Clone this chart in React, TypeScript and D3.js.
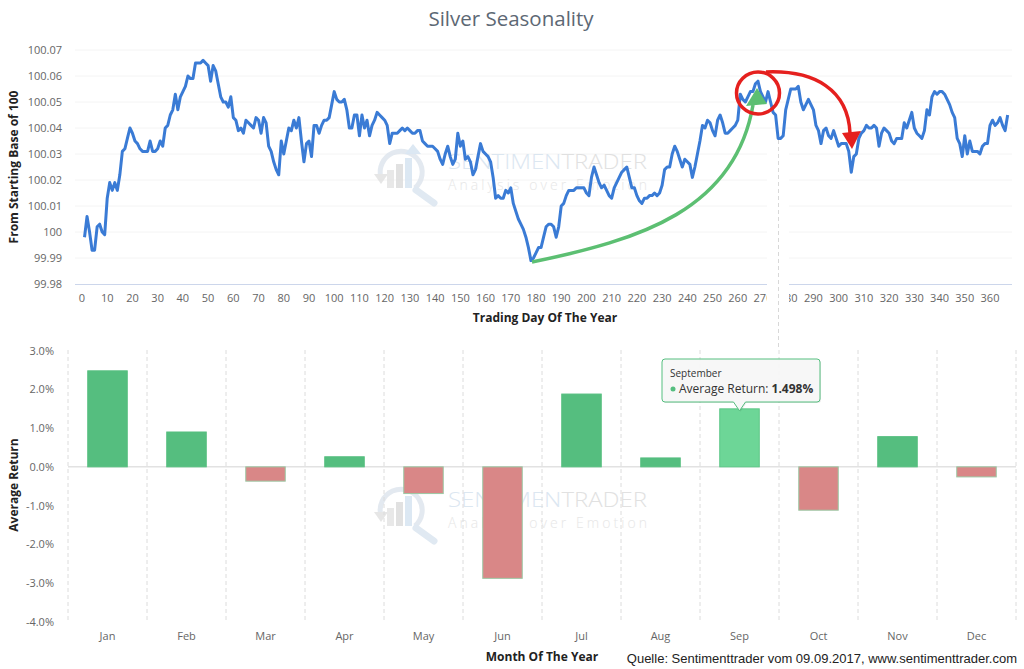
import React from "react";
import * as d3 from "d3";

// seasonal path, one value per trading day starting at day 1
const dailyValues = [
  99.998, 100.006, 100.0, 99.993, 99.993, 100.002, 100.003, 100.0, 99.999, 100.013,
  100.019, 100.016, 100.019, 100.016, 100.022, 100.031, 100.032, 100.036, 100.04, 100.038,
  100.035, 100.034, 100.032, 100.031, 100.031, 100.031, 100.035, 100.031, 100.031, 100.032,
  100.035, 100.033, 100.04, 100.041, 100.045, 100.047, 100.053, 100.047, 100.052, 100.054,
  100.056, 100.06, 100.059, 100.059, 100.065, 100.065, 100.065, 100.066, 100.065, 100.064,
  100.058, 100.064, 100.062, 100.057, 100.052, 100.05, 100.05, 100.048, 100.052, 100.044,
  100.043, 100.039, 100.04, 100.038, 100.043, 100.042, 100.041, 100.04, 100.044, 100.043,
  100.038, 100.044, 100.042, 100.033, 100.031, 100.027, 100.024, 100.022, 100.035, 100.03,
  100.035, 100.04, 100.039, 100.043, 100.04, 100.044, 100.035, 100.027, 100.034, 100.035,
  100.029, 100.041, 100.041, 100.038, 100.041, 100.043, 100.043, 100.044, 100.049, 100.054,
  100.051, 100.05, 100.05, 100.051, 100.047, 100.04, 100.04, 100.045, 100.045, 100.037,
  100.045, 100.04, 100.043, 100.037, 100.041, 100.043, 100.046, 100.045, 100.044, 100.043,
  100.041, 100.034, 100.038, 100.038, 100.038, 100.039, 100.04, 100.039, 100.04, 100.039,
  100.038, 100.038, 100.039, 100.039, 100.035, 100.034, 100.033, 100.033, 100.033, 100.032,
  100.031, 100.028, 100.026, 100.03, 100.033, 100.029, 100.026, 100.028, 100.038, 100.033,
  100.035, 100.028, 100.029, 100.027, 100.022, 100.024, 100.029, 100.034, 100.031, 100.03,
  100.029, 100.027, 100.021, 100.013, 100.014, 100.013, 100.013, 100.016, 100.015, 100.017,
  100.011, 100.008, 100.005, 100.003, 100.001, 99.998, 99.994, 99.989, 99.99, 99.992,
  99.994, 99.994, 99.998, 100.002, 100.003, 100.003, 100.002, 99.998, 100.002, 100.01,
  100.011, 100.014, 100.016, 100.016, 100.016, 100.017, 100.017, 100.017, 100.017, 100.015,
  100.014, 100.021, 100.025, 100.022, 100.019, 100.017, 100.018, 100.016, 100.014, 100.013,
  100.017, 100.019, 100.021, 100.023, 100.024, 100.025, 100.021, 100.017, 100.017, 100.014,
  100.012, 100.011, 100.013, 100.013, 100.014, 100.014, 100.015, 100.014, 100.015, 100.018,
  100.024, 100.025, 100.025, 100.03, 100.033, 100.031, 100.028, 100.025, 100.028, 100.027,
  100.026, 100.021, 100.025, 100.03, 100.035, 100.041, 100.04, 100.043, 100.042, 100.039,
  100.037, 100.043, 100.045, 100.042, 100.038, 100.038, 100.039, 100.04, 100.041, 100.043,
  100.053, 100.051, 100.05, 100.052, 100.054, 100.054, 100.057, 100.058, 100.054, 100.052,
  100.05, 100.054, 100.05, 100.046, 100.045, 100.036, 100.036, 100.037, 100.047, 100.051,
  100.055, 100.055, 100.055, 100.056, 100.05, 100.047, 100.049, 100.051, 100.049, 100.047,
  100.041, 100.039, 100.034, 100.039, 100.04, 100.037, 100.036, 100.039, 100.036, 100.033,
  100.034, 100.034, 100.034, 100.031, 100.023, 100.029, 100.03, 100.036, 100.038, 100.039,
  100.041, 100.04, 100.04, 100.041, 100.04, 100.033, 100.038, 100.04, 100.039, 100.038,
  100.035, 100.034, 100.036, 100.036, 100.036, 100.042, 100.04, 100.043, 100.046, 100.04,
  100.038, 100.037, 100.036, 100.039, 100.047, 100.045, 100.052, 100.054, 100.053, 100.054,
  100.054, 100.053, 100.051, 100.049, 100.046, 100.044, 100.036, 100.034, 100.029, 100.037,
  100.03, 100.035, 100.031, 100.031, 100.031, 100.03, 100.033, 100.034, 100.034, 100.041,
  100.043, 100.041, 100.042, 100.044, 100.041, 100.039, 100.045,
];

const dayTicks = d3.range(0, 361, 10);
const levelTicks = [99.98, 99.99, 100, 100.01, 100.02, 100.03, 100.04, 100.05, 100.06, 100.07];
const levelLabels = ["99.98", "99.99", "100", "100.01", "100.02", "100.03", "100.04", "100.05", "100.06", "100.07"];

const months = ["Jan", "Feb", "Mar", "Apr", "May", "Jun", "Jul", "Aug", "Sep", "Oct", "Nov", "Dec"];
const monthReturns = [2.48, 0.9, -0.37, 0.26, -0.69, -2.88, 1.88, 0.23, 1.498, -1.12, 0.78, -0.26];
const returnTicks = [3, 2, 1, 0, -1, -2, -3, -4];

const font = "'Open Sans', 'DejaVu Sans', sans-serif";
const green = "#55be7f";
const red = "#d98787";

const Watermark: React.FC<{ dy: number }> = ({ dy }) => (
  <g transform={`translate(0,${dy})`} opacity={0.85}>
    <g transform="translate(401,172)">
      <path d="M -20 6 A 21 21 0 1 1 14 16" fill="none" stroke="#dfe6ee" strokeWidth={5} />
      <path d="M -27 2 L -20 12 L -13 2 Z" fill="#e2e2e2" />
      <rect x={-14} y={-2} width={7} height={18} fill="#e4e4e4" />
      <rect x={-5} y={-8} width={7} height={24} fill="#dcdcdc" />
      <rect x={4} y={-14} width={7} height={30} fill="#d6e4f2" />
      <path d="M 4 -18 L 12 -28 L 20 -18 Z" fill="#d6e4f2" />
      <line x1={15} y1={18} x2={33} y2={31} stroke="#dbe6f0" strokeWidth={7} strokeLinecap="round" />
    </g>
    <text x={448} y={169} fontFamily={font} fontSize={20} fontWeight={300} textLength={199} lengthAdjust="spacingAndGlyphs">
      <tspan fill="#d6e3ef">SENTIMEN</tspan>
      <tspan fill="#dcdcdc">TRADER</tspan>
    </text>
    <text x={448} y={189.5} fontFamily={font} fontSize={14} fontWeight={300} fill="#e3e3e3" textLength={199} lengthAdjust="spacing">
      Analysis over Emotion
    </text>
  </g>
);

const App: React.FC = () => {
  // top panel scales
  const x = d3.scaleLinear().domain([0, 360]).range([82, 990]);
  const y = d3.scaleLinear().domain([99.98, 100.07]).range([284, 50]);
  const line = d3
    .line<number>()
    .x((_, i) => x(i + 1))
    .y((d) => y(d))
    .curve(d3.curveLinear);

  // bottom panel scales
  const xb = d3.scaleBand<string>().domain(months).range([68, 1016]);
  const yb = d3.scaleLinear().domain([-4, 3]).range([621.7, 350.7]);
  const bw = xb.bandwidth();

  const sepIdx = 8;
  const tipX = (xb(months[sepIdx]) as number) + bw / 2;
  const tipY = yb(monthReturns[sepIdx]) + 2;
  const bx0 = 662, bx1 = 820, by0 = 359, by1 = 402;
  const tooltipPath = `M ${bx0 + 3} ${by0} L ${bx1 - 3} ${by0} Q ${bx1} ${by0} ${bx1} ${by0 + 3} L ${bx1} ${by1 - 3} Q ${bx1} ${by1} ${bx1 - 3} ${by1} L ${tipX + 6} ${by1} L ${tipX} ${tipY} L ${tipX - 6} ${by1} L ${bx0 + 3} ${by1} Q ${bx0} ${by1} ${bx0} ${by1 - 3} L ${bx0} ${by0 + 3} Q ${bx0} ${by0} ${bx0 + 3} ${by0} Z`;

  return (
    <div style={{ position: "absolute", left: 0, top: 0 }}>
      <svg width={1024} height={669} style={{ display: "block", background: "#fff" }}>
        <text x={511} y={26} textAnchor="middle" fontFamily={font} fontSize={20.5} fill="#5d6874">
          Silver Seasonality
        </text>

        {/* top panel */}
        {levelTicks.slice(1).map((t) => (
          <line key={t} x1={75} x2={1012} y1={y(t)} y2={y(t)} stroke="#f4f4f4" />
        ))}
        <Watermark dy={0} />
        <line x1={75} x2={1012} y1={y(99.98) + 0.5} y2={y(99.98) + 0.5} stroke="#ccd6eb" />
        {levelTicks.map((t, i) => (
          <text key={t} x={62} y={y(t) + 4} textAnchor="end" fontFamily={font} fontSize={11} fill="#666">
            {levelLabels[i]}
          </text>
        ))}
        {dayTicks.map((t) => (
          <text key={t} x={x(t)} y={302} textAnchor="middle" fontFamily={font} fontSize={11} fill="#666">
            {t}
          </text>
        ))}
        <text
          transform={`translate(18,167) rotate(-90)`}
          textAnchor="middle"
          fontFamily={font}
          fontSize={12}
          fontWeight={700}
          fill="#222"
        >
          From Starting Base of 100
        </text>
        <text x={545} y={322} textAnchor="middle" fontFamily={font} fontSize={12} fontWeight={700} fill="#222">
          Trading Day Of The Year
        </text>

        {/* cut-out strip from the screenshot composite */}
        <rect x={767} y={140} width={22} height={205} fill="#fff" />
        <line x1={778.5} x2={778.5} y1={140} y2={350} stroke="#d8d8d8" strokeDasharray="4,3" />

        <path d={line(dailyValues) || ""} fill="none" stroke="#3a7bd5" strokeWidth={3} strokeLinejoin="round" />

        {/* annotations */}
        <path d="M 532 262 C 640 240 735 210 753 105" fill="none" stroke="#5cbf72" strokeWidth={3.5} />
        <path d="M 757 88 L 746 106 L 767 104 Z" fill="#5cbf72" />
        <ellipse cx={758} cy={93} rx={21.5} ry={21} fill="none" stroke="#e5201e" strokeWidth={3.5} />
        <path d="M 766 72 C 815 70 848 90 850 133" fill="none" stroke="#e5201e" strokeWidth={3.5} />
        <path d="M 852 149 L 842 133 L 861 131 Z" fill="#e5201e" />

        {/* bottom panel */}
        <Watermark dy={338} />
        {d3.range(months.length + 1).map((i) => {
          const gx = 68 + i * bw;
          return (
            <line key={i} x1={gx} x2={gx} y1={350} y2={622} stroke="#dcdcdc" strokeDasharray="4,3" />
          );
        })}
        <line x1={68} x2={1016} y1={yb(0)} y2={yb(0)} stroke="#e2e2e2" strokeWidth={1.5} />
        {monthReturns.map((v, i) => {
          const m = months[i];
          const top = yb(Math.max(0, v));
          const h = Math.abs(yb(v) - yb(0));
          const fill = v >= 0 ? (i === sepIdx ? "#6dd697" : green) : red;
          return (
            <rect
              key={m}
              x={(xb(m) as number) + bw * 0.25}
              y={top}
              width={bw * 0.5}
              height={h}
              fill={fill}
              stroke={v >= 0 ? (i === sepIdx ? "#5cc686" : green) : "#9cc8a4"}
              strokeWidth={1}
            />
          );
        })}
        {returnTicks.map((t) => (
          <text key={t} x={54} y={yb(t) + 4} textAnchor="end" fontFamily={font} fontSize={11} fill="#666">
            {t.toFixed(1)}%
          </text>
        ))}
        {months.map((m) => (
          <text
            key={m}
            x={(xb(m) as number) + bw / 2}
            y={640}
            textAnchor="middle"
            fontFamily={font}
            fontSize={11}
            fill="#666"
          >
            {m}
          </text>
        ))}
        <text
          transform={`translate(18,485) rotate(-90)`}
          textAnchor="middle"
          fontFamily={font}
          fontSize={12}
          fontWeight={700}
          fill="#222"
        >
          Average Return
        </text>
        <text x={542} y={661} textAnchor="middle" fontFamily={font} fontSize={12} fontWeight={700} fill="#222">
          Month Of The Year
        </text>

        {/* tooltip */}
        <path d={tooltipPath} transform="translate(1,1)" fill="rgba(0,0,0,0.08)" />
        <path d={tooltipPath} fill="rgba(248,248,248,0.95)" stroke={green} strokeWidth={1} />
        <text x={670} y={377} fontFamily={font} fontSize={10} fill="#333">
          September
        </text>
        <circle cx={673} cy={389} r={2.5} fill={green} />
        <text x={679} y={393} fontFamily={font} fontSize={12} fill="#333">
          Average Return: <tspan fontWeight={700}>{monthReturns[sepIdx].toFixed(3)}%</tspan>
        </text>

        <text x={1017} y={663} textAnchor="end" fontFamily="'Liberation Sans', Arial, sans-serif" fontSize={13} fill="#222">
          Quelle: Sentimenttrader vom 09.09.2017, www.sentimenttrader.com
        </text>
      </svg>
    </div>
  );
};

export default App;
